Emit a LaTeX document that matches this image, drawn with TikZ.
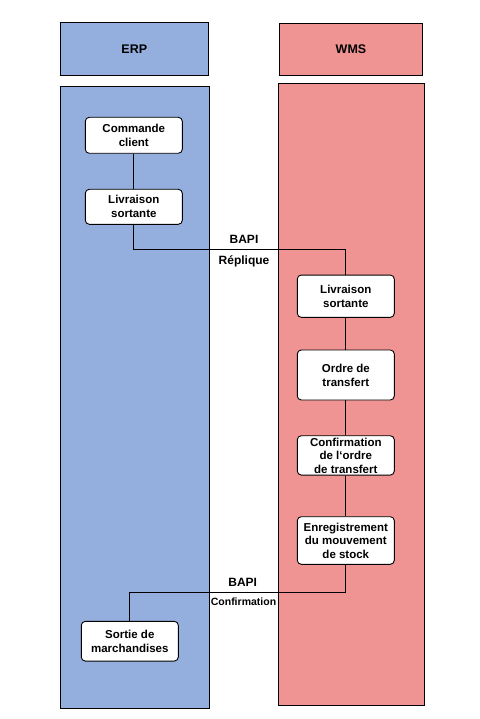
\documentclass[tikz,border=0pt]{standalone}
\usepackage{fontspec}
\setmainfont{Liberation Sans}
\definecolor{erpblue}{RGB}{148,175,222}
\definecolor{wmspink}{RGB}{240,147,147}
\begin{document}
\begin{tikzpicture}[x=1pt,y=-1pt,
  lane/.style={draw=black,line width=1pt},
  head/.style={font=\fontsize{12.5}{14}\selectfont\bfseries},
  stepbox/.style={draw=black,fill=white,rounded corners=4pt,line width=0.9pt,
     minimum width=97pt,align=center,inner sep=0pt,
     font=\fontsize{11.5}{14}\selectfont\bfseries},
  lbl/.style={font=\fontsize{12}{14}\selectfont\bfseries},
  conn/.style={draw=black,line width=0.9pt}]
\useasboundingbox (0,0) rectangle (479,719);
% headers
\filldraw[lane,fill=erpblue] (60,22.3) rectangle (208.7,75.3);
\filldraw[lane,fill=wmspink] (279.3,23.3) rectangle (422.7,75.3);
\node[head] (erp) at (134.3,49) {ERP};
\node[head] (wms) at (351,49.5) {WMS};
% lanes
\filldraw[lane,fill=erpblue] (60,86.3) rectangle (209.7,708.3);
\filldraw[lane,fill=wmspink] (278.3,83.3) rectangle (424.7,705.3);
% ERP boxes
\node[stepbox,minimum height=36pt] (cc) at (133.8,135.3) {Commande\\client};
\node[stepbox,minimum height=35pt] (ls1) at (133.8,206.8) {Livraison\\sortante};
\node[stepbox,minimum height=39.7pt] (sm) at (129.8,641.2) {Sortie de\\marchandises};
% WMS boxes
\node[stepbox,minimum height=42.3pt] (ls2) at (345.8,296.2) {Livraison\\sortante};
\node[stepbox,minimum height=50pt] (ot) at (345.8,375) {Ordre de\\transfert};
\node[stepbox,minimum height=39.3pt,font=\fontsize{11.5}{13.5}\selectfont\bfseries] (co) at (345.8,455.4) {Confirmation\\de l‘ordre\\de transfert};
\node[stepbox,minimum height=47.6pt,font=\fontsize{11.5}{13.5}\selectfont\bfseries] (en) at (345.8,540.5) {Enregistrement\\du mouvement\\de stock};
% connectors
\draw[conn] (cc) -- (ls1);
\coordinate (j1) at (133.8,249.3);
\draw[conn] (ls1.south) -- (j1) -| (ls2.north);
\draw[conn] (ls2) -- (ot);
\draw[conn] (ot) -- (co);
\draw[conn] (co) -- (en);
\coordinate (j2) at (345.8,592.3);
\draw[conn] (en.south) -- (j2) -| (sm.north);
% labels
\node[lbl] (b1) at (244,239) {BAPI};
\node[lbl] (r1) at (244,261.7) {Réplique};
\node[lbl] (b2) at (242.7,582.7) {BAPI};
\node[font=\fontsize{10.5}{12}\selectfont\bfseries] (c2) at (243.5,602) {Confirmation};
\end{tikzpicture}
\end{document}
